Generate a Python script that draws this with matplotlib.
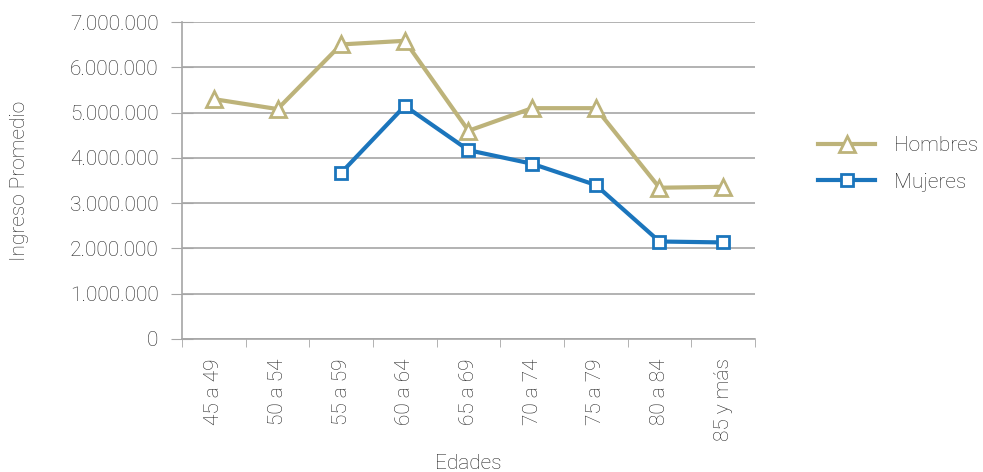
import numpy as np
import matplotlib
matplotlib.use('Agg')
import matplotlib.pyplot as plt
from matplotlib.ticker import FuncFormatter, FixedLocator

plt.rcParams['font.family'] = ['Roboto', 'DejaVu Sans']
plt.rcParams['font.weight'] = 'light'

edades = ['45 a 49', '50 a 54', '55 a 59', '60 a 64', '65 a 69',
          '70 a 74', '75 a 79', '80 a 84', '85 y más']
hombres = [5300000, 5080000, 6510000, 6590000, 4600000,
           5100000, 5100000, 3340000, 3360000]
mujeres = [np.nan, np.nan, 3670000, 5150000, 4170000,
           3870000, 3400000, 2150000, 2130000]

col_h = '#BDB37A'
col_m = '#1B75BC'
gris = '#A6A6A6'
texto = '#262626'
fs = 15

fig = plt.figure(figsize=(9.83, 4.72), dpi=100)
ax = fig.add_axes([0.1852, 0.2824, 0.768 - 0.1852, 0.9528 - 0.2824])

x = np.arange(len(edades))
ax.plot(x, hombres, color=col_h, lw=3, marker='^', markersize=12,
        markerfacecolor='white', markeredgecolor=col_h, markeredgewidth=2,
        label='Hombres', zorder=3)
ax.plot(x, mujeres, color=col_m, lw=3, marker='s', markersize=8,
        markerfacecolor='white', markeredgecolor=col_m, markeredgewidth=2,
        label='Mujeres', zorder=3)

ax.set_xlim(-0.5, len(edades) - 0.5)
ax.set_ylim(0, 7000000)
ax.set_yticks(np.arange(0, 7000001, 1000000))
ax.yaxis.set_major_formatter(FuncFormatter(lambda v, p: f'{int(v):,}'.replace(',', '.')))
ax.yaxis.grid(True, color=gris, lw=1.2)
ax.set_axisbelow(True)

ax.set_xticks(x)
ax.set_xticklabels(edades, rotation=90, fontweight='light')
ax.xaxis.set_minor_locator(FixedLocator(np.arange(-0.5, len(edades), 1)))
ax.tick_params(axis='x', which='major', length=0, pad=14, labelsize=fs, labelcolor=texto)
ax.tick_params(axis='x', which='minor', length=6, color=gris, direction='out')
ax.tick_params(axis='y', length=16, direction='inout', color=gris, labelsize=fs,
               labelcolor=texto, pad=9)

for s in ['top', 'right']:
    ax.spines[s].set_visible(False)
for s in ['left', 'bottom']:
    ax.spines[s].set_color(gris)
    ax.spines[s].set_linewidth(1.2)

ax.set_xlabel('Edades', fontsize=fs, color=texto, labelpad=9, fontweight='light')
ax.set_ylabel('Ingreso Promedio', fontsize=fs, color=texto, labelpad=29, fontweight='light')

leg = ax.legend(loc='center left', bbox_to_anchor=(1.078, 0.552), frameon=False,
                prop={'size': fs, 'weight': 'light'}, labelcolor=texto,
                handlelength=2.74, labelspacing=0.83, handletextpad=0.9)

fig.savefig('out.png', dpi=100)
